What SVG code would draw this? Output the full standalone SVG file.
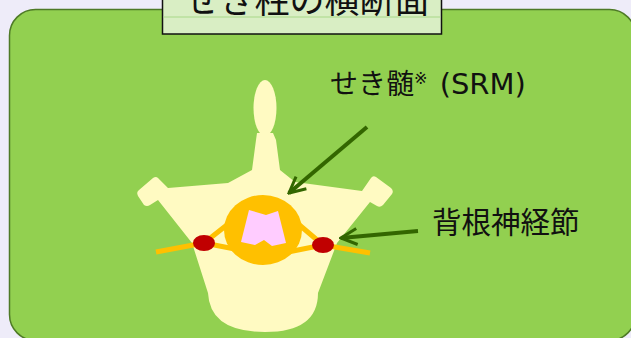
<svg xmlns="http://www.w3.org/2000/svg" width="631" height="338" viewBox="0 0 631 338">
  <style>
    .label { font-family: "DejaVu Sans", "Noto Sans CJK JP", sans-serif; fill: #111111; }
    .bone { fill: #FFFAC2; }
    .root { fill: none; stroke: #FFC000; stroke-width: 5; stroke-linejoin: round; }
    .ganglion { fill: #C00000; }
    .pointer { fill: none; stroke: #336600; stroke-width: 4; stroke-linecap: butt; }
  </style>
  <defs>
    <marker id="openHead" viewBox="0 0 10 10" refX="9" refY="5" markerWidth="5" markerHeight="5" orient="auto" markerUnits="strokeWidth">
      <path d="M1,1 L9,5 L1,9" fill="none" stroke="#336600" stroke-width="1.5"/>
    </marker>
  </defs>

  <!-- page background -->
  <rect x="0" y="0" width="631" height="338" fill="#EEECF9"/>

  <!-- panel -->
  <g id="panel">
    <rect x="9.5" y="9.5" width="626" height="331" rx="26" ry="26" fill="#92D050" stroke="#4E7A26" stroke-width="1.5"/>
  </g>

  <!-- title box -->
  <g id="title">
    <rect x="162.5" y="-10" width="279" height="44" fill="#D9EEC4" stroke="#111111" stroke-width="1.5"/>
    <line x1="163.5" y1="17" x2="440.5" y2="17" stroke="#A8D888" stroke-width="1"/>
    <text class="label" x="307" y="13" font-size="35" text-anchor="middle">せき柱の横断面</text>
  </g>

  <!-- vertebra -->
  <g id="vertebra">
    <ellipse class="bone" cx="265" cy="108" rx="11.5" ry="28"/>
    <path class="bone" d="M257,133 L273,133 L276,140 L280,170 L295,182 L362,191
      L371,178 Q373,175 376,177 L391,188 Q394,191 392,194 L383,205 Q380,208 377,206 L370,202
      L337,243 L318,293 Q318,332 265,332 Q210,332 208,293 L192,243 L158,200
      L150,205 Q147,207 144,205 L138,196 Q136,192 139,190 L153,178 Q156,176 158,178 L168,188
      L228,183 L252,170 L256,140 Z"/>
  </g>

  <!-- spinal cord (SRM) -->
  <g id="spinal-cord">
    <polyline class="root" points="156,252 204,243 237,217"/>
    <polyline class="root" points="204,243 240,250"/>
    <polyline class="root" points="370,253 323,245 290,217"/>
    <polyline class="root" points="323,245 288,252"/>
    <ellipse cx="263" cy="230" rx="39" ry="35" fill="#FFC000"/>
    <path d="M249,210 L266,215 L278,211 L286,243 L272,246 L264,240 L255,245 L241,242 Z" fill="#FFCCFF"/>
  </g>

  <!-- dorsal root ganglia -->
  <g id="ganglia">
    <ellipse class="ganglion" cx="204" cy="243" rx="11" ry="8"/>
    <ellipse class="ganglion" cx="323" cy="245" rx="11" ry="8"/>
  </g>

  <!-- labels -->
  <g id="label-srm">
    <text class="label" x="330" y="94" font-size="28">せき髄<tspan font-size="16" dy="-10">※</tspan><tspan font-size="29" dx="3" dy="10"> (SRM)</tspan></text>
  </g>
  <g id="label-drg">
    <text class="label" x="432" y="233" font-size="29.5">背根神経節</text>
  </g>

  <!-- connectors -->
  <g id="connectors">
    <line class="pointer" x1="367" y1="127" x2="289" y2="193" marker-end="url(#openHead)"/>
    <line class="pointer" x1="418" y1="231" x2="341" y2="238" marker-end="url(#openHead)"/>
  </g>
</svg>
